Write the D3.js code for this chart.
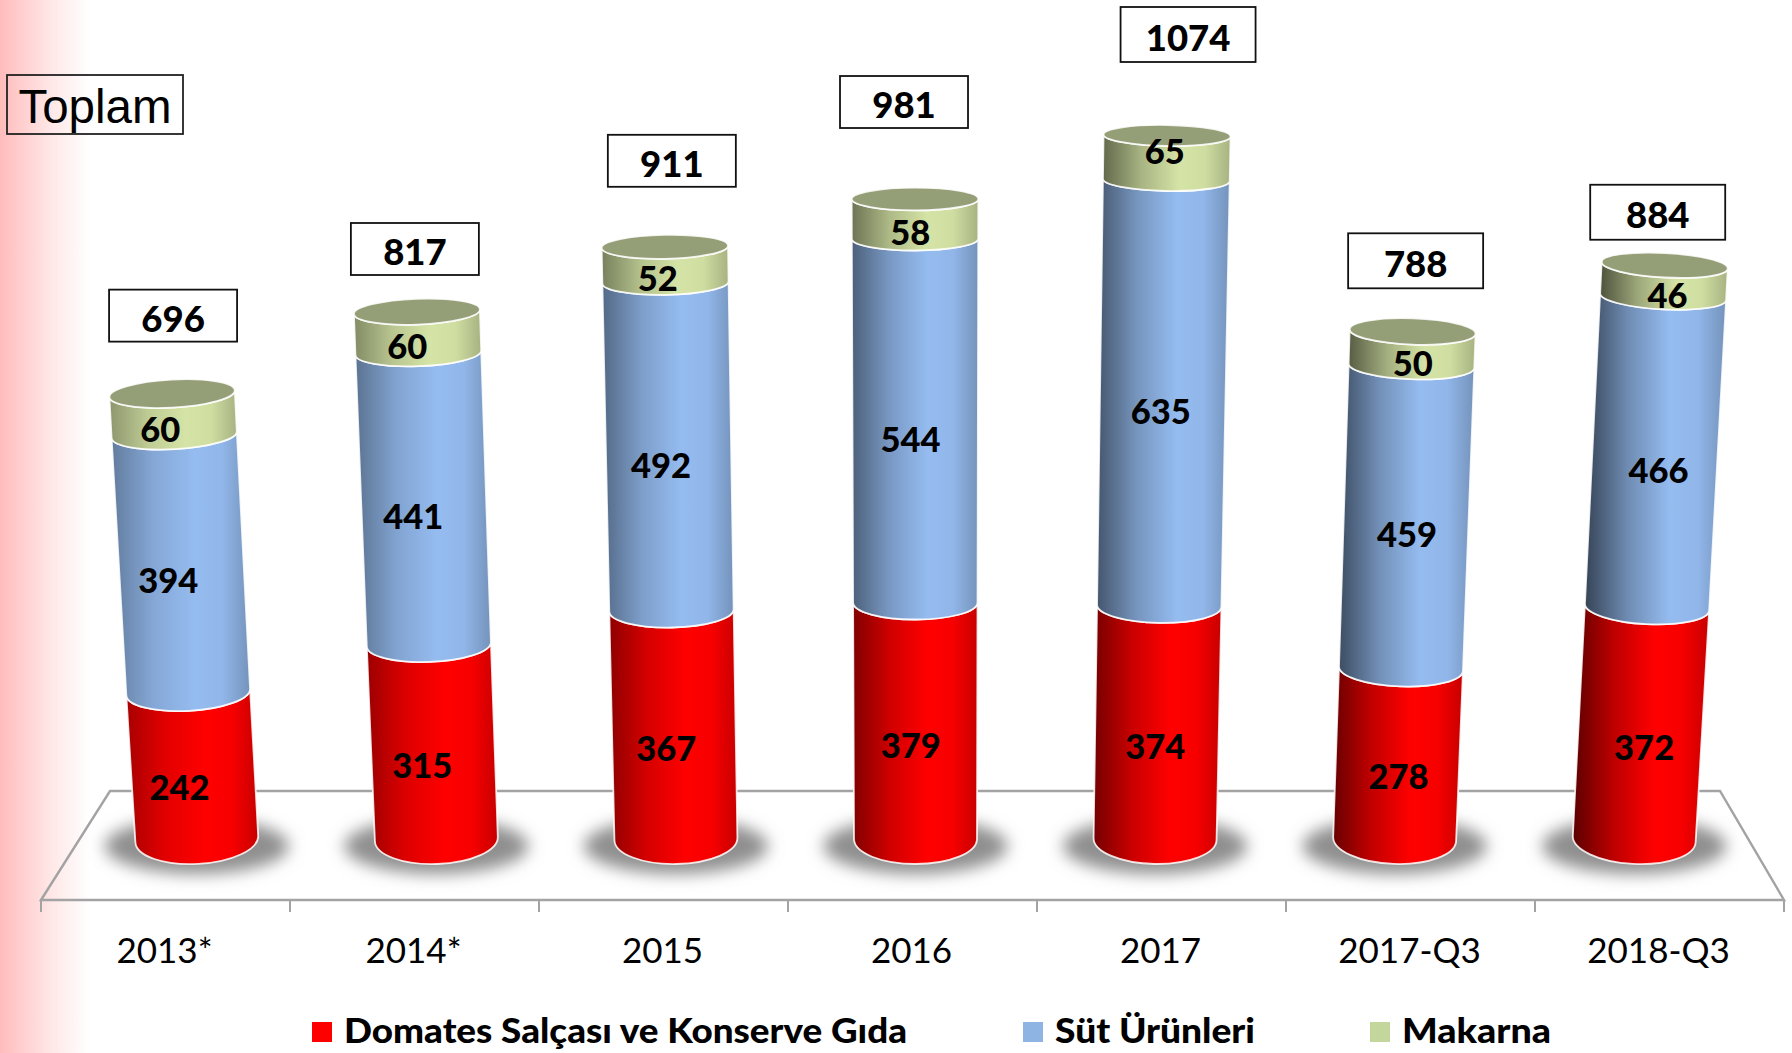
<!DOCTYPE html>
<html lang="en">
<head>
<meta charset="utf-8">
<title>Toplam</title>
<script src="https://d3js.org/d3.v7.min.js"></script>
<style>
body{margin:0;background:#fff;}
svg{display:block;}
text{font-family:Lato,"Open Sans",sans-serif;fill:#000;}
</style>
</head>
<body>
<div id="chart"></div>
<script>
var categories = ["2013*","2014*","2015","2016","2017","2017-Q3","2018-Q3"]
var seriesNames = ["Domates Salçası ve Konserve Gıda","Süt Ürünleri","Makarna"]
var tomato = [242,315,367,379,374,278,372]
var dairy = [394,441,492,544,635,459,466]
var pasta = [60,60,52,58,65,50,46]
var totals = [696,817,911,981,1074,788,884]

var w = 1792
var h = 1053

// total boxes were placed by hand in the original, nudged from the top of each column
var boxNudge = [[1,-78],[-2,-62],[7,-86],[-11,-97],[21,-101],[3,-70],[-7,-53]]
var boxSize = [[128,52],[128,52],[128,52],[128,52],[135,55],[135,55],[135,55]]

var rows = categories.map(function(c,i){
    return {cat:c,i:i,tomato:tomato[i],dairy:dairy[i],pasta:pasta[i]}
})
var keys = ["tomato","dairy","pasta"]
var stacked = d3.stack().keys(keys)(rows)

// colours at the brightest part of each cylinder
var bright = {tomato:"#ff0000",dairy:"#95bcf0",pasta:"#d5e4a6"}
var flat = {tomato:"#ff0000",dairy:"#8eb4e3",pasta:"#c3d69b"}

var axisX = d3.scaleBand().domain(categories).range([41,1784])
var baseX = d3.scaleBand().domain(categories).range([77,1754])
// perspective: the value axis stretches a little and the ellipses flatten going up
var yScale = d3.scaleLinear().domain([0,242,636,1074]).range([839,692,434.6,135.5])
var ryScale = d3.scaleLinear().domain([0,278,696,1074]).range([25,18,14,10.5])
var rxScale = d3.scaleLinear().domain([0,1074]).range([61.5,63.5])
var leanScale = d3.scaleLinear().domain([0,6]).range([-0.0355,0.0345])
var leftShade = d3.scaleLinear().domain([0,6]).range([0.66,0.36])
var labelDx = d3.scaleLinear().domain([0,6]).range([-13,3.5])
var labelDy = d3.scaleLinear().domain([120,450,950,1041]).range([23,17,14.5,-6]).clamp(true)

function cx(i,v){
    return baseX(categories[i]) + baseX.bandwidth()/2 + leanScale(i)*v
}
// slant of the ellipse so it stays square to the leaning column
function tilt(i){
    return Math.atan2(leanScale(i),0.65)
}
function edge(i,v,side){
    var t = tilt(i)
    return [cx(i,v)+side*rxScale(v)*Math.cos(t), yScale(v)+side*rxScale(v)*Math.sin(t)]
}
function segPath(i,v0,v1){
    var deg = tilt(i)*180/Math.PI
    var a = edge(i,v0,-1), b = edge(i,v0,1), c = edge(i,v1,1), d = edge(i,v1,-1)
    return "M"+a+"A"+rxScale(v0)+","+ryScale(v0)+" "+deg+" 0 0 "+b+"L"+c+"A"+rxScale(v1)+","+ryScale(v1)+" "+deg+" 0 1 "+d+"Z"
}

var svg = d3.select("#chart").append("svg").attr("width",w).attr("height",h)
var defs = svg.append("defs")

var strip = defs.append("linearGradient").attr("id","strip")
strip.append("stop").attr("offset",0).attr("stop-color","#ffbcbc")
strip.append("stop").attr("offset",0.55).attr("stop-color","#ffe6e6")
strip.append("stop").attr("offset",1).attr("stop-color","#ffffff")

var blur = defs.append("filter").attr("id","soft")
    .attr("x","-30%").attr("y","-60%").attr("width","160%").attr("height","220%")
blur.append("feGaussianBlur").attr("stdDeviation",8)

keys.forEach(function(k){
    categories.forEach(function(c,i){
        var shade = d3.interpolateRgb("#000000",bright[k])
        var g = defs.append("linearGradient").attr("id","g-"+k+"-"+i)
        g.append("stop").attr("offset",0).attr("stop-color",shade(leftShade(i)))
        g.append("stop").attr("offset",0.3).attr("stop-color",shade((leftShade(i)+1)/2+0.06))
        g.append("stop").attr("offset",0.6).attr("stop-color",shade(1))
        g.append("stop").attr("offset",0.8).attr("stop-color",shade(0.97))
        g.append("stop").attr("offset",1).attr("stop-color",shade(0.78))
    })
})

svg.append("rect").attr("x",0).attr("y",0).attr("width",90).attr("height",h).attr("fill","url(#strip)")

// floor of the 3d chart
var floorBackY = 791
var floorFrontY = 900
svg.append("path")
    .attr("d","M"+axisX.range()[0]+","+floorFrontY+"L110,"+floorBackY+"L1720,"+floorBackY+"L"+axisX.range()[1]+","+floorFrontY+"Z")
    .attr("fill","none")
    .attr("stroke","#a3a3a3")
    .attr("stroke-width",2.4)

// ticks sit between the categories, labels on the band centres
var axis = svg.append("g").attr("transform","translate(0,"+floorFrontY+")")
axis.selectAll("line")
    .data(categories.concat(["end"]))
    .enter()
    .append("line")
    .attr("x1",function(d,i){ return axisX.range()[0]+i*axisX.step() })
    .attr("x2",function(d,i){ return axisX.range()[0]+i*axisX.step() })
    .attr("y1",0)
    .attr("y2",12)
    .attr("stroke","#a3a3a3")
    .attr("stroke-width",2)
axis.selectAll("text")
    .data(categories)
    .enter()
    .append("text")
    .attr("x",function(d){ return axisX(d)+axisX.bandwidth()/2-1 })
    .attr("y",63)
    .attr("text-anchor","middle")
    .attr("font-size",35)
    .text(function(d){ return d })

// shadows
svg.selectAll("ellipse.shadow")
    .data(rows)
    .enter()
    .append("ellipse")
    .attr("class","shadow")
    .attr("cx",function(d){ return cx(d.i,0) })
    .attr("cy",846)
    .attr("rx",92)
    .attr("ry",28)
    .attr("fill","#8f8f8f")
    .attr("filter","url(#soft)")

// cylinders, bottom segment first so the upper rims lie on top
stacked.forEach(function(layer){
    svg.selectAll("path."+layer.key)
        .data(layer)
        .enter()
        .append("path")
        .attr("class",layer.key)
        .attr("d",function(d,i){ return segPath(i,d[0],d[1]) })
        .attr("fill",function(d,i){ return "url(#g-"+layer.key+"-"+i+")" })
        .attr("stroke","#fff")
        .attr("stroke-opacity",0.85)
        .attr("stroke-width",1.8)
})
svg.selectAll("ellipse.lid")
    .data(rows)
    .enter()
    .append("ellipse")
    .attr("class","lid")
    .attr("rx",function(d){ return rxScale(totals[d.i]) })
    .attr("ry",function(d){ return ryScale(totals[d.i]) })
    .attr("transform",function(d){
        var top = d.tomato+d.dairy+d.pasta
        return "translate("+cx(d.i,top)+","+yScale(top)+") rotate("+(tilt(d.i)*180/Math.PI)+")"
    })
    .attr("fill","#959f77")
    .attr("stroke","#fff")
    .attr("stroke-opacity",0.85)
    .attr("stroke-width",1.8)

// value labels
stacked.forEach(function(layer){
    svg.selectAll("text."+layer.key)
        .data(layer)
        .enter()
        .append("text")
        .attr("class",layer.key)
        .attr("x",function(d,i){ return cx(i,(d[0]+d[1])/2)+labelDx(i) })
        .attr("y",function(d){ return yScale((d[0]+d[1])/2)+labelDy((d[0]+d[1])/2)+12 })
        .attr("text-anchor","middle")
        .attr("font-size",34.5)
        .attr("font-weight",900)
        .text(function(d){ return d[1]-d[0] })
})

// total boxes
var boxes = svg.selectAll("g.total")
    .data(rows)
    .enter()
    .append("g")
    .attr("class","total")
    .attr("transform",function(d){
        var n = boxNudge[d.i]
        return "translate("+(cx(d.i,totals[d.i])+n[0])+","+(yScale(totals[d.i])+n[1])+")"
    })
boxes.append("rect")
    .attr("x",function(d){ return -boxSize[d.i][0]/2 })
    .attr("y",function(d){ return -boxSize[d.i][1]/2 })
    .attr("width",function(d){ return boxSize[d.i][0] })
    .attr("height",function(d){ return boxSize[d.i][1] })
    .attr("fill","#fff")
    .attr("stroke","#111")
    .attr("stroke-width",1.8)
boxes.append("text")
    .attr("y",16)
    .attr("text-anchor","middle")
    .attr("font-size",36.5)
    .attr("font-weight",900)
    .text(function(d){ return totals[d.i] })

// Toplam box, the pink strip shows through it
svg.append("rect")
    .attr("x",7).attr("y",75).attr("width",176).attr("height",59)
    .attr("fill","none").attr("stroke","#222").attr("stroke-width",1.8)
svg.append("text")
    .attr("x",95).attr("y",123)
    .attr("text-anchor","middle")
    .attr("font-size",47.5)
    .style("font-family","'Liberation Sans',Arial,sans-serif")
    .text("Toplam")

// legend
var legendX = [312,1023,1370]
var legendW = [563,200,149]
var legend = svg.selectAll("g.legend")
    .data(keys)
    .enter()
    .append("g")
    .attr("class","legend")
    .attr("transform",function(d,i){ return "translate("+legendX[i]+",1022)" })
legend.append("rect")
    .attr("width",20)
    .attr("height",20)
    .attr("fill",function(d){ return flat[d] })
legend.append("text")
    .attr("x",32)
    .attr("y",21)
    .attr("font-size",34)
    .attr("font-weight",900)
    .attr("textLength",function(d,i){ return legendW[i] })
    .attr("lengthAdjust","spacingAndGlyphs")
    .text(function(d,i){ return seriesNames[i] })
</script>
</body>
</html>
